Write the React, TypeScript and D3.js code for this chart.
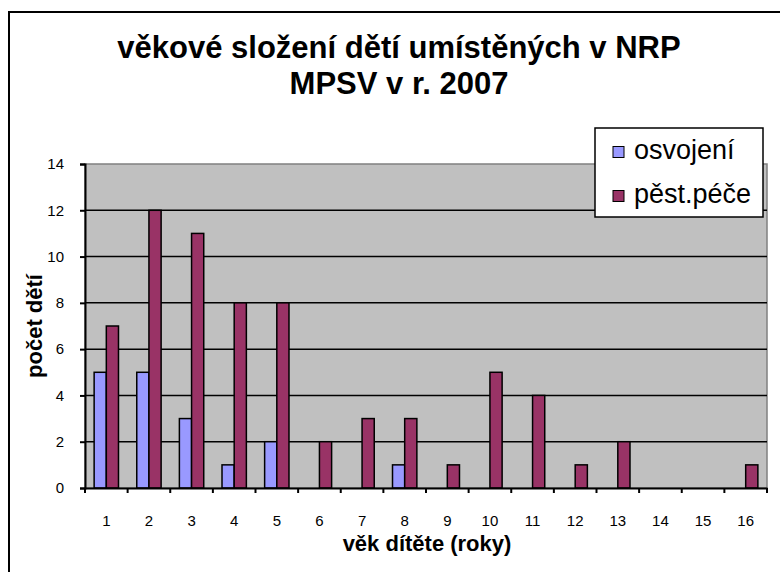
import { useEffect, useRef } from 'react';
import * as d3 from 'd3';

// ages (years) on the x axis
const ages = ['1', '2', '3', '4', '5', '6', '7', '8', '9', '10', '11', '12', '13', '14', '15', '16'];
const adoption = [5, 5, 3, 1, 2, 0, 0, 1, 0, 0, 0, 0, 0, 0, 0, 0];
const fosterCare = [7, 12, 11, 8, 8, 2, 3, 3, 1, 5, 4, 1, 2, 0, 0, 1];
const seriesNames = ['osvojení', 'pěst.péče'];
const seriesColors = ['#9999FF', '#993366'];
const yTicks = [0, 2, 4, 6, 8, 10, 12, 14];
const titleLines = ['věkové složení dětí umístěných v NRP', 'MPSV v r. 2007'];

const W = 780;
const H = 572;

const App = () => {
  const svgRef = useRef(null);

  useEffect(() => {
    const svg = d3.select(svgRef.current);
    svg.selectAll('*').remove();
    const font = '"Liberation Sans", Arial, sans-serif';

    // chart area frame (runs off the right/bottom edge)
    svg.append('rect')
      .attr('x', 9).attr('y', 12)
      .attr('width', W + 20).attr('height', H + 20)
      .attr('fill', 'white').attr('stroke', 'black').attr('stroke-width', 2);

    const plot = { left: 85, right: 767, top: 164, bottom: 488 };

    const x = d3.scaleBand()
      .domain(ages)
      .range([plot.left, plot.right])
      .padding(0);

    const y = d3.scaleLinear()
      .domain([0, 14])
      .range([plot.bottom, plot.top]);

    // plot background
    svg.append('rect')
      .attr('x', plot.left).attr('y', plot.top)
      .attr('width', plot.right - plot.left).attr('height', plot.bottom - plot.top)
      .attr('fill', '#C0C0C0').attr('stroke', '#808080').attr('stroke-width', 1.5);

    // gridlines
    svg.append('g')
      .selectAll('line')
      .data(yTicks.filter(t => t > 0 && t < 14))
      .enter()
      .append('line')
      .attr('x1', plot.left).attr('x2', plot.right)
      .attr('y1', d => y(d)).attr('y2', d => y(d))
      .attr('stroke', 'black').attr('stroke-width', 1.5);

    // bars
    const barW = x.bandwidth() / 3.5;
    const offset = (x.bandwidth() - 2 * barW) / 2;
    [adoption, fosterCare].forEach((vals, si) => {
      svg.append('g')
        .selectAll('rect')
        .data(vals.map((v, i) => ({ age: ages[i], v })).filter(d => d.v > 0))
        .enter()
        .append('rect')
        .attr('x', d => x(d.age) + offset + si * barW)
        .attr('y', d => y(d.v))
        .attr('width', barW)
        .attr('height', d => y(0) - y(d.v))
        .attr('fill', seriesColors[si])
        .attr('stroke', 'black')
        .attr('stroke-width', 1.5);
    });

    // y axis
    const yAxis = svg.append('g')
      .attr('transform', `translate(${plot.left},0)`)
      .call(d3.axisLeft(y).tickValues(yTicks).tickSize(5).tickPadding(16).tickFormat(d3.format('d')));
    yAxis.select('.domain').attr('stroke', 'black').attr('stroke-width', 2);
    yAxis.selectAll('.tick line').attr('stroke', 'black').attr('stroke-width', 2);
    yAxis.selectAll('text').attr('font-family', font).attr('font-size', 15).attr('fill', 'black');

    // x axis
    const xAxis = svg.append('g')
      .attr('transform', `translate(0,${plot.bottom})`)
      .call(d3.axisBottom(x).tickSize(0).tickPadding(27));
    xAxis.select('.domain').attr('stroke', 'black').attr('stroke-width', 2);
    xAxis.selectAll('text').attr('font-family', font).attr('font-size', 15).attr('fill', 'black');

    // tick marks between categories
    svg.append('g')
      .selectAll('line')
      .data(ages.concat(['end']))
      .enter()
      .append('line')
      .attr('x1', (d, i) => plot.left + i * x.bandwidth())
      .attr('x2', (d, i) => plot.left + i * x.bandwidth())
      .attr('y1', plot.bottom).attr('y2', plot.bottom + 5)
      .attr('stroke', 'black').attr('stroke-width', 2);

    // title
    svg.append('text')
      .attr('text-anchor', 'middle')
      .attr('font-family', font).attr('font-weight', 'bold').attr('font-size', 31)
      .selectAll('tspan')
      .data(titleLines)
      .enter()
      .append('tspan')
      .attr('x', 399)
      .attr('y', (d, i) => 58 + i * 36)
      .text(d => d);

    // axis titles
    svg.append('text')
      .attr('x', 427).attr('y', 551)
      .attr('text-anchor', 'middle')
      .attr('font-family', font).attr('font-weight', 'bold').attr('font-size', 22)
      .text('věk dítěte (roky)');

    svg.append('text')
      .attr('transform', `translate(42,${(plot.top + plot.bottom) / 2}) rotate(-90)`)
      .attr('text-anchor', 'middle')
      .attr('font-family', font).attr('font-weight', 'bold').attr('font-size', 22)
      .text('počet dětí');

    // legend
    const legend = svg.append('g');
    legend.append('rect')
      .attr('x', 595).attr('y', 128)
      .attr('width', 168).attr('height', 89)
      .attr('fill', 'white').attr('stroke', 'black').attr('stroke-width', 1.5);
    seriesNames.forEach((name, i) => {
      const cy = 152 + i * 44;
      legend.append('rect')
        .attr('x', 613).attr('y', cy - 5.5)
        .attr('width', 11).attr('height', 11)
        .attr('fill', seriesColors[i]).attr('stroke', 'black').attr('stroke-width', 1);
      legend.append('text')
        .attr('x', 634).attr('y', cy + 7)
        .attr('font-family', font).attr('font-size', 27)
        .text(name);
    });

    return () => {
      d3.select(svgRef.current).selectAll('*').remove();
    };
  }, []);

  return (
    <svg
      ref={svgRef}
      width={W}
      height={H}
      style={{ position: 'absolute', left: 0, top: 0, overflow: 'hidden', background: 'white' }}
    />
  );
};

export default App;
